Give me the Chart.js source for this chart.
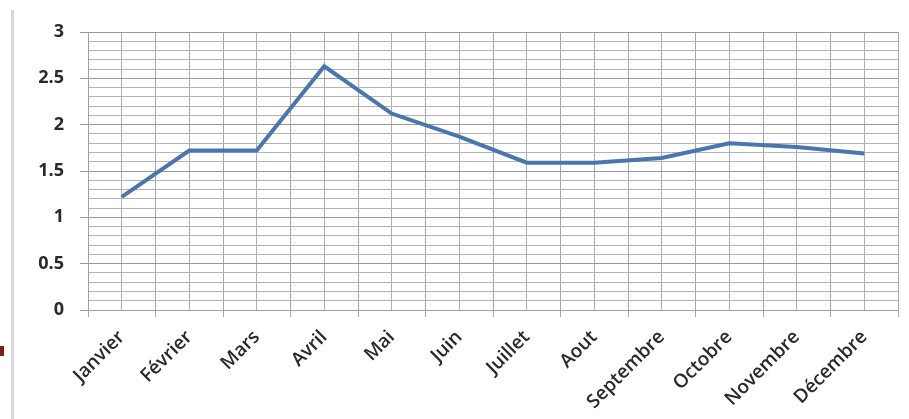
<!DOCTYPE html>
<html><head><meta charset="utf-8">
<script src="https://cdn.jsdelivr.net/npm/chart.js@4/dist/chart.umd.min.js"></script>
<style>
html,body{margin:0;padding:0;background:#fff;}
#wrap{position:relative;width:909px;height:419px;}
#edge{position:absolute;left:11px;top:10px;width:3px;height:409px;background:#d8d8d8;}
#mark{position:absolute;left:0;top:346px;width:4px;height:10px;background:#7a1c1c;}
canvas{position:absolute;left:0;top:0;}
</style></head>
<body>
<div id="wrap"><div id="edge"></div><div id="mark"></div><canvas id="c" width="909" height="419"></canvas></div>
<script>
const months = ['Janvier','Février','Mars','Avril','Mai','Juin','Juillet','Aout','Septembre','Octobre','Novembre','Décembre'];
const values = [1.22, 1.72, 1.72, 2.63, 2.12, 1.87, 1.59, 1.59, 1.64, 1.80, 1.76, 1.69];
const yMin = 0, yMax = 3, yMinorStep = 0.1, yLabelStep = 0.5;

const isMajor = v => Math.abs(v / yLabelStep - Math.round(v / yLabelStep)) < 1e-6;

new Chart(document.getElementById('c'), {
  type: 'line',
  data: {
    labels: months,
    datasets: [{
      data: values,
      borderColor: '#4a76ad',
      borderWidth: 4,
      pointRadius: 0,
      tension: 0,
      fill: false
    }]
  },
  options: {
    responsive: false,
    animation: false,
    layout: { padding: { left: 10, right: 11, top: 32, bottom: 0 } },
    plugins: { legend: { display: false }, tooltip: { enabled: false } },
    scales: {
      x: {
        type: 'category',
        offset: true,
        grid: { offset: true, color: '#a8a8a8', lineWidth: 1, drawTicks: true, tickLength: 7, tickColor: '#a8a8a8' },
        border: { color: '#a0a0a0' },
        ticks: {
          maxRotation: 45, minRotation: 45, autoSkip: false, padding: 9,
          color: '#2a2a2a', font: { family: 'Open Sans', size: 19, weight: '600' }
        },
        afterFit: s => { s.height = 109; }
      },
      x2: {
        type: 'category',
        position: 'top',
        labels: months,
        offset: true,
        grid: { offset: false, color: '#b0b0b0', lineWidth: 1, drawTicks: false },
        border: { display: false },
        ticks: { display: false },
        afterFit: s => { s.height = 0; }
      },
      y: {
        min: yMin, max: yMax,
        border: { color: '#a0a0a0' },
        grid: {
          color: ctx => isMajor(ctx.tick.value) ? '#9a9a9a' : '#b4b4b4',
          tickColor: ctx => isMajor(ctx.tick.value) ? '#9a9a9a' : 'rgba(0,0,0,0)',
          tickLength: 8, lineWidth: 1
        },
        ticks: {
          stepSize: yMinorStep, autoSkip: false, padding: 16,
          color: '#2a2a2a', font: { family: 'Open Sans', size: 18, weight: 'bold' },
          callback: v => isMajor(v) ? String(Math.round(v * 10) / 10) : ''
        },
        afterFit: s => { s.width = 78; }
      }
    }
  }
});
</script>
</body></html>
